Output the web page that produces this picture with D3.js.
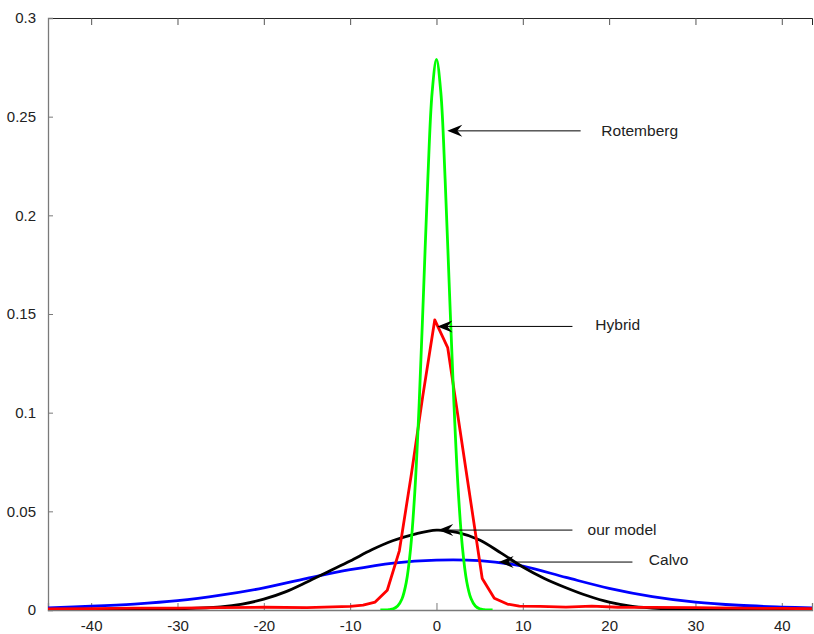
<!DOCTYPE html>
<html>
<head>
<meta charset="utf-8">
<title>Distributions</title>
<script src="https://d3js.org/d3.v7.min.js"></script>
<style>
  body { margin: 0; background: #fff; }
  text { font-family: "Liberation Sans", Arial, sans-serif; }
</style>
</head>
<body>
<div id="chart"></div>
<script>
// --- data ---
var xTicks = [-40, -30, -20, -10, 0, 10, 20, 30, 40];
var yTicks = [0, 0.05, 0.1, 0.15, 0.2, 0.25, 0.3];
var yTickLabels = ["0", "0.05", "0.1", "0.15", "0.2", "0.25", "0.3"];

// Rotemberg (green)
var rotX = [-6.5, -6, -5.5, -5, -4.5, -4, -3.5, -3, -2.5, -2, -1.5, -1, -0.5, 0,
            0.5, 1, 1.5, 2, 2.5, 3, 3.5, 4, 4.5, 5, 5.5, 6, 6.5];
var rotY = [0, 0.00004, 0.00017, 0.0006, 0.002, 0.0056, 0.014, 0.031, 0.0605, 0.105, 0.161, 0.2185, 0.2625, 0.279,
            0.2625, 0.2185, 0.162, 0.107, 0.062, 0.032, 0.0145, 0.0058, 0.002, 0.0006, 0.00017, 0.00004, 0];

// Hybrid (red)
var hybX = [-45, -40, -35, -30, -25, -20, -15, -12, -10, -8.5, -7.1, -5.7, -4.3, -2.9, -1.6, -0.2,
            1.3, 2.7, 4.0, 5.3, 6.7, 8.2, 9.6, 12, 15, 18, 21, 25, 30, 35, 40, 44];
var hybY = [0.0005, 0.0007, 0.0009, 0.0010, 0.0012, 0.0014, 0.0012, 0.0016, 0.0018, 0.0025, 0.004, 0.010, 0.030, 0.069, 0.108, 0.147,
            0.133, 0.092, 0.054, 0.016, 0.006, 0.003, 0.002, 0.0018, 0.0015, 0.0020, 0.0014, 0.0013, 0.0012, 0.0009, 0.0008, 0.0006];

// our model (black)
var ourX = [-45, -40, -35, -30, -25, -22.5, -20, -17.5, -15, -12.5, -10, -7.5, -5, -2.5, 0,
            2.5, 5, 7.5, 10, 12.5, 15, 17.5, 20, 22.5, 25, 27.5, 30, 35, 40, 44];
var ourY = [0, 0.0001, 0.0003, 0.0006, 0.0016, 0.003, 0.0055, 0.0092, 0.0142, 0.0195, 0.0248, 0.0305, 0.0352, 0.0385, 0.0405,
            0.0392, 0.0355, 0.0288, 0.0218, 0.016, 0.0113, 0.0072, 0.004, 0.002, 0.001, 0.0004, 0.0002, 0, 0, 0];

// Calvo (blue)
var calX = [-45, -40, -35, -30, -25, -20, -15, -10, -5, 0, 5, 10, 15, 20, 25, 30, 35, 40, 44];
var calY = [0.0011, 0.0019, 0.0030, 0.0047, 0.0075, 0.0112, 0.0160, 0.0204, 0.0238, 0.0253,
            0.0250, 0.0222, 0.0165, 0.0110, 0.0068, 0.0040, 0.0024, 0.0015, 0.0010];

// annotations: label, arrow tip (x,y), arrow tail x, text position
var noteLabels = ["Rotemberg", "Hybrid", "our model", "Calvo"];
var noteTipX = [1.25, 0.1, 0.2, 7.2];
var noteTipY = [0.2428, 0.1437, 0.0405, 0.0243];
var noteTailX = [16.7, 15.75, 15.75, 22.7];
var noteTextX = [19.1, 18.4, 17.5, 24.6];
var noteTextY = [0.2428, 0.1445, 0.0410, 0.0253];

var width = 814, height = 634;
var svg = d3.select("#chart").append("svg")
  .attr("width", width)
  .attr("height", height);

var x = d3.scaleLinear().domain([-45, 43.5]).range([48, 812]);
var y = d3.scaleLinear().domain([0, 0.3]).range([610, 18]);

svg.append("clipPath").attr("id", "plotclip")
  .append("rect")
  .attr("x", 48).attr("y", 18)
  .attr("width", 764).attr("height", 592);

// axes
var xAxisBottom = d3.axisBottom(x).tickValues(xTicks).tickSize(-7).tickPadding(14)
  .tickFormat(function(d) { return String(d); });
var xAxisTop = d3.axisTop(x).tickValues(xTicks).tickSize(-7).tickFormat("");
var yAxisLeft = d3.axisLeft(y).tickValues(yTicks).tickSize(-5).tickPadding(12)
  .tickFormat(function(d, i) { return yTickLabels[i]; });

var gx = svg.append("g").attr("transform", "translate(0,610)").call(xAxisBottom);
var gt = svg.append("g").attr("transform", "translate(0,18)").call(xAxisTop);
var gy = svg.append("g").attr("transform", "translate(48,0)").call(yAxisLeft);

gx.select(".domain").attr("stroke", "#7a7a7a").attr("stroke-width", 1.3);
gx.selectAll(".tick line").attr("stroke", "#7a7a7a");
gx.selectAll(".tick text").attr("font-size", 15).attr("fill", "#222").attr("dy", "0.45em");
gt.select(".domain").attr("stroke", "#262626").attr("stroke-width", 1);
gt.selectAll(".tick line").attr("stroke", "#555");
gy.select(".domain").attr("stroke", "#7a7a7a").attr("stroke-width", 1.3);
gy.selectAll(".tick line").attr("stroke", "#7a7a7a");
gy.selectAll(".tick text").attr("font-size", 15).attr("fill", "#222");

function toPts(xs, ys) {
  return xs.map(function(v, i) { return [v, ys[i]]; });
}

var smooth = d3.line()
  .x(function(d) { return x(d[0]); })
  .y(function(d) { return y(d[1]); })
  .curve(d3.curveCatmullRom.alpha(0.5));
var straight = d3.line()
  .x(function(d) { return x(d[0]); })
  .y(function(d) { return y(d[1]); });

var plot = svg.append("g").attr("clip-path", "url(#plotclip)");

plot.append("path").datum(toPts(calX, calY))
  .attr("d", smooth).attr("fill", "none").attr("stroke", "#0000ff").attr("stroke-width", 2.8);
plot.append("path").datum(toPts(ourX, ourY))
  .attr("d", smooth).attr("fill", "none").attr("stroke", "#000000").attr("stroke-width", 2.8);
plot.append("path").datum(toPts(hybX, hybY))
  .attr("d", straight).attr("fill", "none").attr("stroke", "#ff0000").attr("stroke-width", 2.8)
  .attr("stroke-linejoin", "round");
plot.append("path").datum(toPts(rotX, rotY))
  .attr("d", smooth).attr("fill", "none").attr("stroke", "#00ff00").attr("stroke-width", 2.8);

// annotation arrows
noteLabels.forEach(function(lab, i) {
  var tx = x(noteTipX[i]), ty = y(noteTipY[i]);
  var g = svg.append("g");
  g.append("line")
    .attr("x1", x(noteTailX[i])).attr("y1", ty)
    .attr("x2", tx + 8).attr("y2", ty)
    .attr("stroke", "#000").attr("stroke-width", 1);
  g.append("path")
    .attr("d", "M" + tx + "," + ty +
               " L" + (tx + 15) + "," + (ty - 6) +
               " L" + (tx + 10) + "," + ty +
               " L" + (tx + 15) + "," + (ty + 6) + " Z")
    .attr("fill", "#000");
  g.append("text")
    .attr("x", x(noteTextX[i])).attr("y", y(noteTextY[i]))
    .attr("dy", "0.35em")
    .attr("font-size", 15.5)
    .attr("fill", "#222")
    .text(lab);
});
</script>
</body>
</html>
